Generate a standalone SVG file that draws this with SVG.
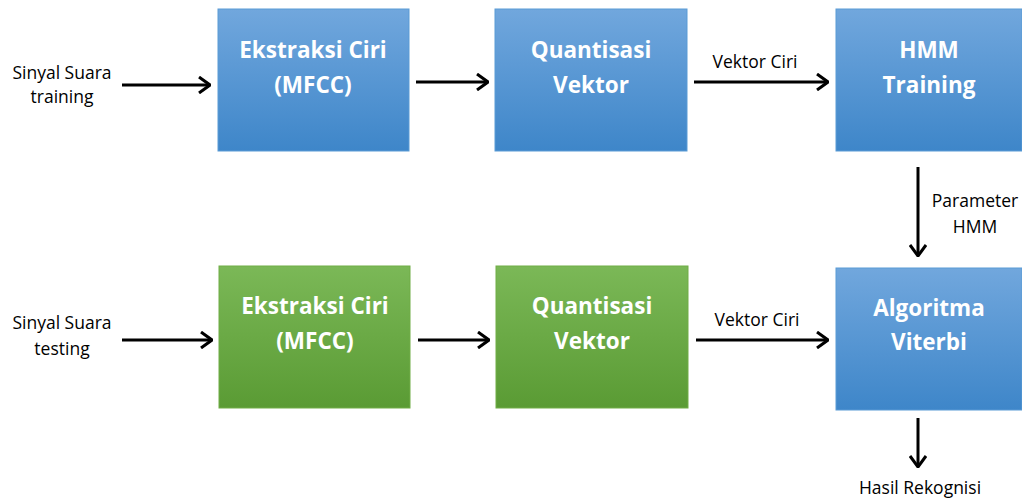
<svg xmlns="http://www.w3.org/2000/svg" width="1022" height="498" viewBox="0 0 1022 498">
<defs>
<linearGradient id="gb" x1="0" y1="0" x2="0" y2="1"><stop offset="0" stop-color="#71a7dd"/><stop offset="1" stop-color="#3e86c9"/></linearGradient>
<linearGradient id="gg" x1="0" y1="0" x2="0" y2="1"><stop offset="0" stop-color="#7bb857"/><stop offset="1" stop-color="#5a9b34"/></linearGradient>
<marker id="ah" viewBox="0 0 13 18" refX="12" refY="9" markerWidth="13" markerHeight="18" markerUnits="userSpaceOnUse" orient="auto"><path d="M1 1 L12 9 L1 17" fill="none" stroke="#000" stroke-width="3"/></marker>
<style>
.bb{fill:url(#gb);stroke:#5b9bd5;stroke-width:1}
.bg{fill:url(#gg);stroke:#70ad47;stroke-width:1}
.t{font-family:"Open Sans","Liberation Sans",sans-serif;font-weight:bold;font-size:22.5px;fill:#fff;text-anchor:middle}
.l{font-family:"Open Sans","Liberation Sans",sans-serif;font-size:17.5px;fill:#000;text-anchor:middle}
.c{stroke:#000;stroke-width:3;fill:none;marker-end:url(#ah)}
</style>
</defs>
<rect width="1022" height="498" fill="#fff"/>
<g id="n1"><rect class="bb" x="218" y="9" width="191" height="142"/><text class="t" x="313" y="58">Ekstraksi Ciri</text><text class="t" x="313" y="93">(MFCC)</text></g>
<g id="n2"><rect class="bb" x="495" y="9" width="192" height="142"/><text class="t" x="591" y="58">Quantisasi</text><text class="t" x="591" y="93">Vektor</text></g>
<g id="n3"><rect class="bb" x="836" y="9" width="186" height="142"/><text class="t" x="929" y="58">HMM</text><text class="t" x="929" y="93">Training</text></g>
<g id="n4"><rect class="bg" x="219" y="266" width="191" height="142"/><text class="t" x="315" y="314">Ekstraksi Ciri</text><text class="t" x="315" y="349">(MFCC)</text></g>
<g id="n5"><rect class="bg" x="496" y="266" width="192" height="142"/><text class="t" x="592" y="314">Quantisasi</text><text class="t" x="592" y="349">Vektor</text></g>
<g id="n6"><rect class="bb" x="836" y="268" width="186" height="142"/><text class="t" x="929" y="316">Algoritma</text><text class="t" x="929" y="350">Viterbi</text></g>
<g id="labels">
<text class="l" x="62" y="79">Sinyal Suara</text><text class="l" x="62" y="103">training</text>
<text class="l" x="62" y="329">Sinyal Suara</text><text class="l" x="62" y="355">testing</text>
<text class="l" x="755" y="68">Vektor Ciri</text>
<text class="l" x="757" y="326">Vektor Ciri</text>
<text class="l" x="975" y="207">Parameter</text><text class="l" x="975" y="233">HMM</text>
<text class="l" x="920" y="494">Hasil Rekognisi</text>
</g>
<g id="connectors">
<line class="c" x1="122" y1="85" x2="210" y2="85"/>
<line class="c" x1="416" y1="82" x2="488" y2="82"/>
<line class="c" x1="694" y1="82" x2="828" y2="82"/>
<line class="c" x1="918" y1="167" x2="918" y2="256"/>
<line class="c" x1="122" y1="340" x2="212" y2="340"/>
<line class="c" x1="418" y1="340" x2="489" y2="340"/>
<line class="c" x1="696" y1="340" x2="828" y2="340"/>
<line class="c" x1="918" y1="418" x2="918" y2="467"/>
</g>
</svg>
